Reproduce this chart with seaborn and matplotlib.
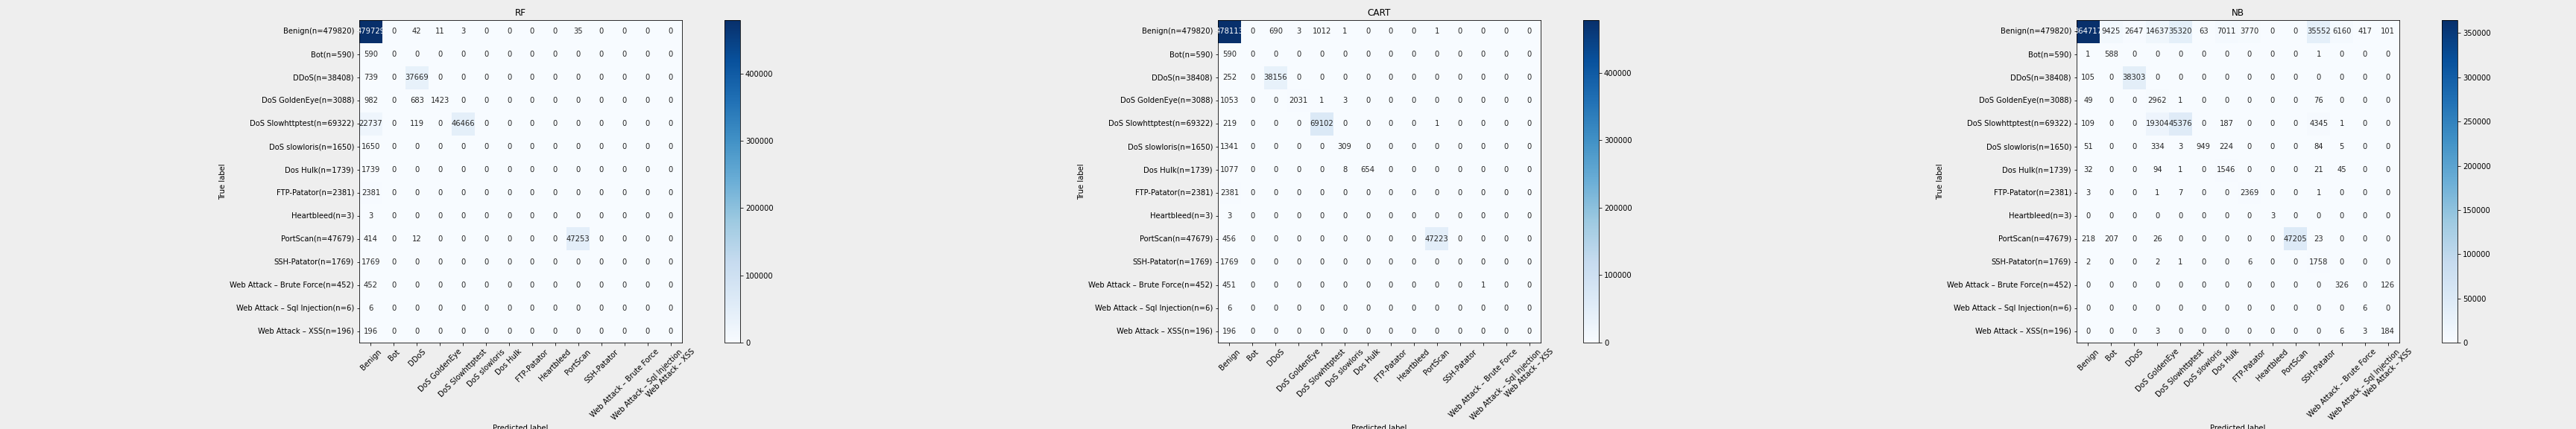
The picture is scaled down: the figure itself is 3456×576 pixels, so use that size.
import numpy as np
import pandas as pd
import matplotlib
matplotlib.use("Agg")
import matplotlib.pyplot as plt
import seaborn as sns

classes = ["Benign", "Bot", "DDoS", "DoS GoldenEye", "DoS Slowhttptest", "DoS slowloris",
           "Dos Hulk", "FTP-Patator", "Heartbleed", "PortScan", "SSH-Patator",
           "Web Attack – Brute Force", "Web Attack – Sql Injection", "Web Attack – XSS"]
counts = [479820, 590, 38408, 3088, 69322, 1650, 1739, 2381, 3, 47679, 1769, 452, 6, 196]

rf_cm = [
    [479729, 0, 42, 11, 3, 0, 0, 0, 0, 35, 0, 0, 0, 0],
    [590, 0, 0, 0, 0, 0, 0, 0, 0, 0, 0, 0, 0, 0],
    [739, 0, 37669, 0, 0, 0, 0, 0, 0, 0, 0, 0, 0, 0],
    [982, 0, 683, 1423, 0, 0, 0, 0, 0, 0, 0, 0, 0, 0],
    [22737, 0, 119, 0, 46466, 0, 0, 0, 0, 0, 0, 0, 0, 0],
    [1650, 0, 0, 0, 0, 0, 0, 0, 0, 0, 0, 0, 0, 0],
    [1739, 0, 0, 0, 0, 0, 0, 0, 0, 0, 0, 0, 0, 0],
    [2381, 0, 0, 0, 0, 0, 0, 0, 0, 0, 0, 0, 0, 0],
    [3, 0, 0, 0, 0, 0, 0, 0, 0, 0, 0, 0, 0, 0],
    [414, 0, 12, 0, 0, 0, 0, 0, 0, 47253, 0, 0, 0, 0],
    [1769, 0, 0, 0, 0, 0, 0, 0, 0, 0, 0, 0, 0, 0],
    [452, 0, 0, 0, 0, 0, 0, 0, 0, 0, 0, 0, 0, 0],
    [6, 0, 0, 0, 0, 0, 0, 0, 0, 0, 0, 0, 0, 0],
    [196, 0, 0, 0, 0, 0, 0, 0, 0, 0, 0, 0, 0, 0],
]

cart_cm = [
    [478113, 0, 690, 3, 1012, 1, 0, 0, 0, 1, 0, 0, 0, 0],
    [590, 0, 0, 0, 0, 0, 0, 0, 0, 0, 0, 0, 0, 0],
    [252, 0, 38156, 0, 0, 0, 0, 0, 0, 0, 0, 0, 0, 0],
    [1053, 0, 0, 2031, 1, 3, 0, 0, 0, 0, 0, 0, 0, 0],
    [219, 0, 0, 0, 69102, 0, 0, 0, 0, 1, 0, 0, 0, 0],
    [1341, 0, 0, 0, 0, 309, 0, 0, 0, 0, 0, 0, 0, 0],
    [1077, 0, 0, 0, 0, 8, 654, 0, 0, 0, 0, 0, 0, 0],
    [2381, 0, 0, 0, 0, 0, 0, 0, 0, 0, 0, 0, 0, 0],
    [3, 0, 0, 0, 0, 0, 0, 0, 0, 0, 0, 0, 0, 0],
    [456, 0, 0, 0, 0, 0, 0, 0, 0, 47223, 0, 0, 0, 0],
    [1769, 0, 0, 0, 0, 0, 0, 0, 0, 0, 0, 0, 0, 0],
    [451, 0, 0, 0, 0, 0, 0, 0, 0, 0, 0, 1, 0, 0],
    [6, 0, 0, 0, 0, 0, 0, 0, 0, 0, 0, 0, 0, 0],
    [196, 0, 0, 0, 0, 0, 0, 0, 0, 0, 0, 0, 0, 0],
]

nb_cm = [
    [364717, 9425, 2647, 14637, 35320, 63, 7011, 3770, 0, 0, 35552, 6160, 417, 101],
    [1, 588, 0, 0, 0, 0, 0, 0, 0, 0, 1, 0, 0, 0],
    [105, 0, 38303, 0, 0, 0, 0, 0, 0, 0, 0, 0, 0, 0],
    [49, 0, 0, 2962, 1, 0, 0, 0, 0, 0, 76, 0, 0, 0],
    [109, 0, 0, 19304, 45376, 0, 187, 0, 0, 0, 4345, 1, 0, 0],
    [51, 0, 0, 334, 3, 949, 224, 0, 0, 0, 84, 5, 0, 0],
    [32, 0, 0, 94, 1, 0, 1546, 0, 0, 0, 21, 45, 0, 0],
    [3, 0, 0, 1, 7, 0, 0, 2369, 0, 0, 1, 0, 0, 0],
    [0, 0, 0, 0, 0, 0, 0, 0, 3, 0, 0, 0, 0, 0],
    [218, 207, 0, 26, 0, 0, 0, 0, 0, 47205, 23, 0, 0, 0],
    [2, 0, 0, 2, 1, 0, 0, 6, 0, 0, 1758, 0, 0, 0],
    [0, 0, 0, 0, 0, 0, 0, 0, 0, 0, 0, 326, 0, 126],
    [0, 0, 0, 0, 0, 0, 0, 0, 0, 0, 0, 0, 6, 0],
    [0, 0, 0, 3, 0, 0, 0, 0, 0, 0, 0, 6, 3, 184],
]

titles = ["RF", "CART", "NB"]
matrices = [rf_cm, cart_cm, nb_cm]

row_labels = [f"{c}(n={n})" for c, n in zip(classes, counts)]

bg = "#eeeeee"
fig = plt.figure(figsize=(48, 8), dpi=72, facecolor=bg)
W, H = 3456.0, 576.0

for k, (title, cm) in enumerate(zip(titles, matrices)):
    x0 = 482 + k * 1152
    ax = fig.add_axes([x0 / W, (H - 460) / H, 433 / W, 433 / H])
    cax = fig.add_axes([(x0 + 490) / W, (H - 460) / H, 21 / W, 433 / H])
    df = pd.DataFrame(np.array(cm), index=row_labels, columns=classes)
    sns.heatmap(df, ax=ax, cmap="Blues", annot=True, fmt="d", cbar_ax=cax,
                annot_kws={"fontsize": 10})
    for s in ax.spines.values():
        s.set_visible(True)
        s.set_color("black")
        s.set_linewidth(0.8)
    cb = ax.collections[0].colorbar
    cb.outline.set_linewidth(0.8)
    cb.outline.set_edgecolor("black")
    cb.ax.tick_params(labelsize=10)
    ax.set_xticklabels(classes, rotation=45, ha="center", fontsize=10)
    ax.set_yticklabels(row_labels, rotation=0, va="center", fontsize=10)
    ax.tick_params(axis="both", length=3.5, width=0.8, color="black")
    ax.set_title(title, fontsize=12)
    ax.set_xlabel("Predicted label", fontsize=10)
    ax.set_ylabel("True label", fontsize=10)

fig.savefig("out.png", dpi=72, facecolor=bg)
